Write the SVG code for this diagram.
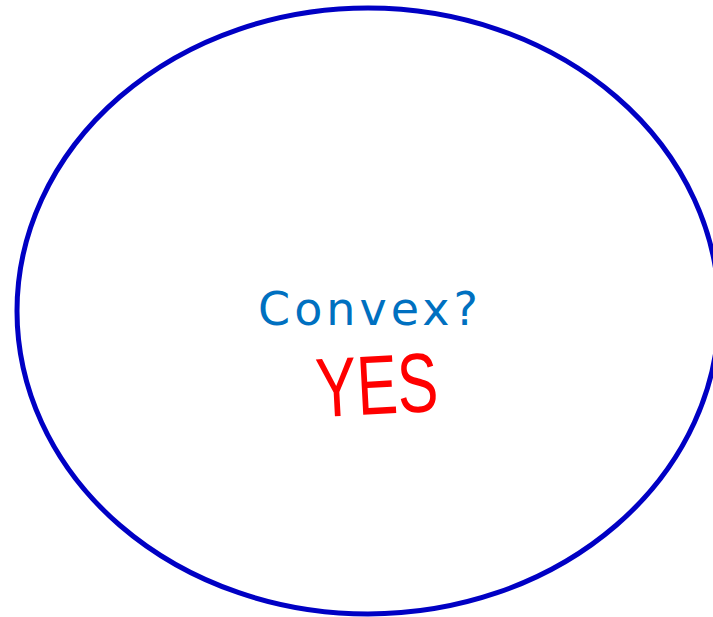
<svg xmlns="http://www.w3.org/2000/svg" width="713" height="617" viewBox="0 0 713 617">
<style>
.shape{fill:none;stroke:#0000c4;stroke-width:5}
.q{font-family:"DejaVu Sans",Verdana,sans-serif;font-size:46px;fill:#0070c0;letter-spacing:4px}
.ans{font-family:"Liberation Sans",Arial,sans-serif;font-size:84px;fill:#ff0000}
</style>
<g id="ellipse">
<ellipse class="shape" cx="368" cy="311" rx="351" ry="303"/>
</g>
<g id="question">
<text class="q" x="370" y="325" text-anchor="middle">Convex?</text>
</g>
<g id="answer">
<text class="ans" x="316" y="414" textLength="122" lengthAdjust="spacingAndGlyphs" transform="rotate(-3 377 385)">YES</text>
</g>
</svg>
